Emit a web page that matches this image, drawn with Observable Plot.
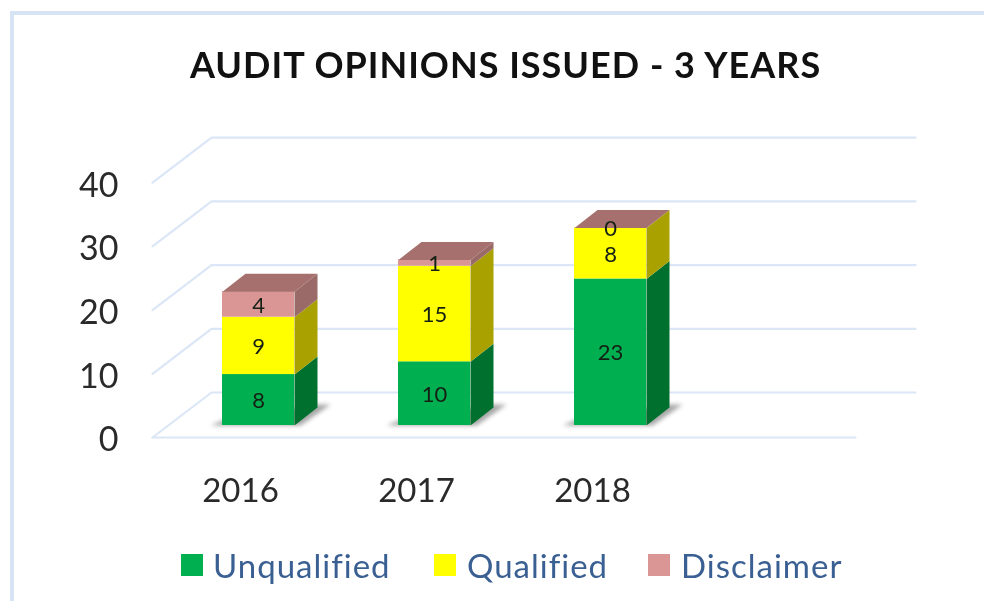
<!DOCTYPE html>
<html><head><meta charset="utf-8">
<script src="https://cdn.jsdelivr.net/npm/d3@7"></script>
<script src="https://cdn.jsdelivr.net/npm/@observablehq/plot@0.6"></script>
<style>
html,body{margin:0;padding:0;background:#fff;overflow:hidden;width:984px;height:601px}
#page{position:relative;width:984px;height:601px;filter:blur(0.7px);font-family:Lato,"Open Sans",sans-serif}
#frame{position:absolute;left:10px;top:11px;width:974px;height:590px;box-sizing:border-box;border-left:4px solid #d7e4f6;border-top:4px solid #d7e4f6}
#title{position:absolute;left:0;top:0;width:984px;height:100px;box-sizing:border-box;padding-top:40px;padding-left:190px;font-size:36px;letter-spacing:1px;line-height:48px;font-weight:700;color:#111;white-space:nowrap}
#chart{position:absolute;left:0;top:100px}
#chart svg{display:block;overflow:visible}
.lg{position:absolute;top:544px;font-size:33px;line-height:42px;color:#3a5f92;white-space:nowrap;letter-spacing:1px}
.sw{position:absolute;top:554px;width:22px;height:22px}
</style></head>
<body><div id="page">
<div id="frame"></div>
<div id="title">AUDIT OPINIONS ISSUED - 3 YEARS</div>
<div id="chart"></div>
</div>
<script>
const years = ["2016","2017","2018"];
const unqualified = [8,10,23];
const qualified = [9,15,8];
const disclaimer = [4,1,0];
const seriesNames = ["Unqualified","Qualified","Disclaimer"];
const seriesValues = [unqualified,qualified,disclaimer];
const frontColors = ["#00b050","#ffff00","#d99694"];
const sideColors = ["#00702f","#a9a100","#9a6a68"];
const topColor = "#a5706e";
const yTicks = [0,10,20,30,40];

const pxX = 176, pxY = 6.37;      // pixels per category / per unit
const half = 36/pxX, dX = 23/pxX, dY = 18/pxY;
const floorX0 = -106/pxX, floorDX = 59/pxX, floorDY = 45/pxY, floorY = -12/pxY;
const floorX1 = 597/pxX, wallX1 = 657/pxX;

const marks = [];
const poly = (pts, fill, extra={}) => marks.push(Plot.line(pts.map(([x,y])=>({x,y})), {x:"x",y:"y",fill,stroke:"none",...extra}));
const segLine = (pts, stroke="#dbe6f6") => marks.push(Plot.line(pts.map(([x,y])=>({x,y})), {x:"x",y:"y",stroke,strokeWidth:2.2}));

// wall grid and floor
yTicks.forEach(t=>{
  const yF = floorY + t, yB = yF + floorDY;
  segLine([[floorX0,yF],[floorX0+floorDX,yB],[wallX1,yB]]);
});
segLine([[floorX0,floorY],[floorX1,floorY]]);

// bars
years.forEach((yr,i)=>{
  const L = i-half, R = i+half;
  poly([[L-12/pxX,0],[R+6/pxX,0],[R+36/pxX,21/pxY],[R+23/pxX,21/pxY],[L,5/pxY]], "#8a8a8a", {imageFilter:"blur(2px)",fillOpacity:0.75});
  let base = 0;
  seriesValues.forEach((vals,s)=>{
    const top = base + vals[i];
    if (vals[i] > 0) {
      poly([[R,base],[R+dX,base+dY],[R+dX,top+dY],[R,top]], sideColors[s]);
      marks.push(Plot.rect([{x1:L,x2:R,y1:base,y2:top}], {x1:"x1",x2:"x2",y1:"y1",y2:"y2",fill:frontColors[s]}));
    }
    base = top;
  });
  poly([[L,base],[L+dX,base+dY],[R+dX,base+dY],[R,base]], topColor);
});

// value labels
const labels = [];
years.forEach((yr,i)=>{
  let base = 0;
  seriesValues.forEach(vals=>{
    labels.push({x:i, y:base+vals[i]/2, t:String(vals[i])});
    base += vals[i];
  });
});
marks.push(Plot.text(labels,{x:"x",y:"y",text:"t",dy:1,fontSize:22,fill:"#142014",fontFamily:"Lato"}));

// axis labels (drawn on the chart's front edge)
marks.push(Plot.text(yTicks,{x:()=>floorX0-34/pxX,y:d=>d+floorY,text:d=>String(d),dy:3,textAnchor:"end",fontSize:34,fill:"#2a2a2a",fontFamily:"Lato"}));
marks.push(Plot.text(years,{x:(d,i)=>i-18/pxX,y:()=>-64/pxY,text:d=>d,dy:2,fontSize:33,fill:"#2a2a2a",fontFamily:"Lato"}));

const plot = Plot.plot({
  width:984,height:430,margin:0,
  x:{domain:[-258/pxX,(984-258)/pxX],range:[0,984],axis:null},
  y:{domain:[-105/pxY,325/pxY],range:[430,0],axis:null},
  style:{background:"transparent",overflow:"visible"},
  marks
});
document.getElementById("chart").appendChild(plot);

// legend
const lgX = [[181,213],[434,467],[648,681]];
const lg = document.getElementById("page");
seriesNames.forEach((n,i)=>{
  const s=document.createElement("div");s.className="sw";s.style.left=lgX[i][0]+"px";s.style.background=frontColors[i];lg.appendChild(s);
  const t=document.createElement("div");t.className="lg";t.style.left=lgX[i][1]+"px";t.textContent=n;lg.appendChild(t);
});
</script>
</body></html>
